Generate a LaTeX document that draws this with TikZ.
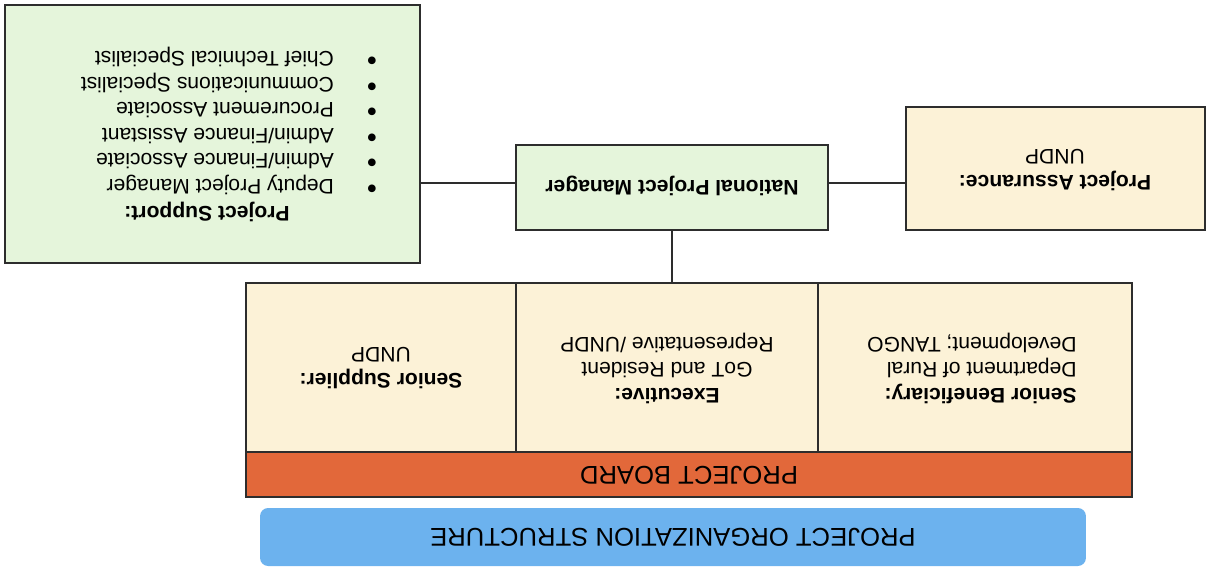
\documentclass[tikz,border=0pt]{standalone}
\usepackage{fontspec}
\setmainfont{Liberation Sans}
\tikzset{every picture/.style={line width=1.2pt}}
\definecolor{org-green}{RGB}{229,245,219}
\definecolor{org-cream}{RGB}{252,242,215}
\definecolor{org-orange}{RGB}{226,104,58}
\definecolor{org-blue}{RGB}{108,178,238}
\definecolor{org-line}{RGB}{45,45,45}
\newcommand{\orgbullet}{\makebox[0.86cm][l]{\fontsize{16}{14.5}\selectfont\textbullet}}

\begin{document}
\begin{tikzpicture}
    [x=0.02cm, y=-0.02cm,
    rect/.style = {rectangle, draw=org-line, inner sep=0pt, fill=org-cream},
    txt/.style = {rotate=180, inner sep=0pt, align=center,
            font=\fontsize{12}{14.5}\selectfont},
    big/.style = {rotate=180, inner sep=0pt,
            font=\fontsize{14.6}{17}\selectfont},
    ]

\useasboundingbox (0,0) rectangle (1208,569);

% top row
\node[rect, minimum width=8.3cm, minimum height=5.16cm, fill=org-green] (support) at (212.5, 134) {};
\node[rect, minimum width=6.24cm, minimum height=1.7cm, fill=org-green] (npm) at (672, 187.5) {};
\node[rect, minimum width=5.98cm, minimum height=2.46cm] (assur) at (1055.5, 168.5) {};

% project board
\node[rect, minimum width=5.4cm, minimum height=3.38cm] (supplier) at (381, 367.5) {};
\node[rect, minimum width=6.04cm, minimum height=3.38cm] (exec) at (667, 367.5) {};
\node[rect, minimum width=6.28cm, minimum height=3.38cm] (benef) at (975, 367.5) {};
\node[rect, minimum width=17.72cm, minimum height=0.9cm, fill=org-orange] (board) at (689, 474.5) {};
\node[rectangle, rounded corners=0.16cm, fill=org-blue, minimum width=16.52cm, minimum height=1.16cm] (banner) at (673, 537) {};

% texts
\node[txt, font=\fontsize{12}{14.5}\selectfont\bfseries] (support-title) at (207, 212) {Project Support:};
\node[txt, anchor=west, align=left] (support-list) at (378, 121) {%
    \orgbullet Deputy Project Manager\\
    \orgbullet Admin/Finance Associate\\
    \orgbullet Admin/Finance Assistant\\
    \orgbullet Procurement Associate\\
    \orgbullet Communications Specialist\\
    \orgbullet Chief Technical Specialist};
\node[txt, font=\fontsize{12}{14.5}\selectfont\bfseries] (npm-t) at (672, 186) {National Project Manager};
\node[txt] (assur-t) at (1055, 170) {\textbf{Project Assurance:}\\UNDP};
\node[txt] (supplier-t) at (381, 368) {\textbf{Senior Supplier:}\\UNDP};
\node[txt] (exec-t) at (667, 368) {\textbf{Executive:}\\GoT and Resident\\Representative /UNDP};
\node[txt, align=left] (benef-t) at (972, 368) {\textbf{Senior Beneficiary:}\\Department of Rural\\Development; TANGO};
\node[big] (board-t) at (689, 475) {PROJECT BOARD};
\node[big] (banner-t) at (673, 537) {PROJECT ORGANIZATION STRUCTURE};

% connectors
\coordinate (hline) at (0, 183);
\draw[org-line] (hline -| support.east) -- (hline -| npm.west);
\draw[org-line] (hline -| npm.east) -- (hline -| assur.west);
\draw[org-line] (npm.south) -- (npm.south |- exec.north);

\end{tikzpicture}
\end{document}
